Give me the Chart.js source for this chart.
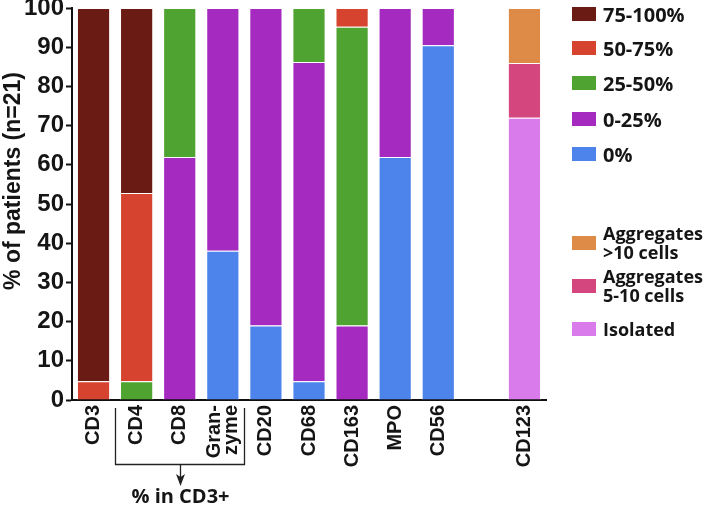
<!DOCTYPE html>
<html>
<head>
<meta charset="utf-8">
<script src="https://cdn.jsdelivr.net/npm/chart.js@4.4.1/dist/chart.umd.min.js"></script>
<style>
    body { margin: 0; background: #fff; }
    #wrap { position: relative; width: 709px; height: 507px; }
    #legend .item { position: absolute; left: 572px; display: flex; align-items: center; color: #151515; font-family: "Open Sans", sans-serif; font-weight: bold; }
    #legend .sw { width: 24px; height: 14px; margin-right: 7px; flex: none; }
</style>
</head>
<body>
<div id="wrap">
    <canvas id="chart" width="709" height="507"></canvas>
    <div id="legend"></div>
</div>
<script>
// categories (blank slot separates CD123 from the rest)
const categories = ['CD3', 'CD4', 'CD8', ['Gran-', 'zyme'], 'CD20', 'CD68', 'CD163', 'MPO', 'CD56', '', 'CD123'];

// % of patients per staining class
const pct0      = [null, null, null, 38.1, 19.0, 4.8, null, 62.0, 90.5, null, null];
const pct0to25  = [null, null, 62.0, 61.9, 81.0, 81.4, 19.0, 38.0, 9.5, null, null];
const pct25to50 = [null, 4.8, 38.0, null, null, 13.8, 76.2, null, null, null, null];
const pct50to75 = [4.8, 48.0, null, null, null, null, 4.8, null, null, null, null];
const pct75to100 = [95.2, 47.2, null, null, null, null, null, null, null, null, null];

// CD123 distribution
const isolated   = [null, null, null, null, null, null, null, null, null, null, 72.0];
const aggr5to10  = [null, null, null, null, null, null, null, null, null, null, 14.0];
const aggrOver10 = [null, null, null, null, null, null, null, null, null, null, 14.0];

const yTicks = [0, 10, 20, 30, 40, 50, 60, 70, 80, 90, 100];
const yTitle = '% of patients (n=21)';
const bracketText = '% in CD3+';

// stacked bottom -> top
const series = [
    { label: '0%', data: pct0, color: '#4d84eb' },
    { label: '0-25%', data: pct0to25, color: '#a52abf' },
    { label: '25-50%', data: pct25to50, color: '#4fa330' },
    { label: '50-75%', data: pct50to75, color: '#d6442f' },
    { label: '75-100%', data: pct75to100, color: '#6a1b14' },
    { label: 'Isolated', data: isolated, color: '#da7bec' },
    { label: 'Aggregates\n5-10 cells', data: aggr5to10, color: '#d3467e' },
    { label: 'Aggregates\n>10 cells', data: aggrOver10, color: '#df8b48' }
];

const datasets = series.map(s => ({
    label: s.label,
    data: s.data,
    backgroundColor: s.color,
    borderColor: 'rgba(255,255,255,0.85)',
    borderWidth: 1,
    barPercentage: 0.77,
    categoryPercentage: 1
}));

const FONT = '"Liberation Sans", Arial, sans-serif';

// rotated x labels, axis title and the "% in CD3+" bracket
const annotations = {
    id: 'annotations',
    afterDraw(chart) {
        const ctx = chart.ctx;
        const x = chart.scales.x;
        const base = chart.chartArea.bottom;
        ctx.save();
        ctx.fillStyle = '#151515';

        // x labels
        ctx.font = 'bold 20px ' + FONT;
        ctx.textAlign = 'right';
        ctx.textBaseline = 'middle';
        categories.forEach((lab, i) => {
            const lines = Array.isArray(lab) ? lab : [lab];
            ctx.save();
            ctx.translate(x.getPixelForValue(i), base + 5);
            ctx.rotate(-Math.PI / 2);
            lines.forEach((ln, j) => ctx.fillText(ln, 0, (j - (lines.length - 1) / 2) * 17));
            ctx.restore();
        });

        // y title
        ctx.save();
        ctx.font = 'bold 23px ' + FONT;
        ctx.textAlign = 'center';
        ctx.translate(14, 181);
        ctx.rotate(-Math.PI / 2);
        ctx.fillText(yTitle, 0, 0);
        ctx.restore();

        // bracket under CD4..Granzyme
        const slot = x.getPixelForValue(1) - x.getPixelForValue(0);
        const left = Math.round(x.getPixelForValue(1) - slot / 2) + 0.5;
        const right = Math.round(x.getPixelForValue(3) + slot / 2) + 0.5;
        const mid = Math.round((left + right) / 2) + 0.5;
        const top = base + 8, bottom = base + 64.5;
        ctx.strokeStyle = '#222';
        ctx.lineWidth = 1.3;
        ctx.beginPath();
        ctx.moveTo(left, top);
        ctx.lineTo(left, bottom);
        ctx.lineTo(right, bottom);
        ctx.lineTo(right, top);
        ctx.moveTo(mid, bottom);
        ctx.lineTo(mid, base + 82);
        ctx.stroke();
        ctx.fillStyle = '#222';
        ctx.beginPath();
        ctx.moveTo(mid - 4.5, base + 74);
        ctx.lineTo(mid, base + 86);
        ctx.lineTo(mid + 4.5, base + 74);
        ctx.lineTo(mid, base + 77);
        ctx.closePath();
        ctx.fill();
        ctx.fillStyle = '#151515';
        ctx.font = 'bold 20px "Open Sans", sans-serif';
        ctx.textAlign = 'center';
        ctx.fillText(bracketText, mid, base + 97);
        ctx.restore();
    }
};

const chart = new Chart(document.getElementById('chart'), {
    type: 'bar',
    data: { labels: categories, datasets: datasets },
    options: {
        responsive: false,
        animation: false,
        layout: { padding: { left: 0, right: 163, top: 8, bottom: 0 } },
        plugins: {
            legend: { display: false },
            tooltip: { enabled: false }
        },
        scales: {
            x: {
                stacked: true,
                grid: { display: true, drawOnChartArea: false, drawTicks: false, color: '#111' },
                border: { color: '#111', width: 2 },
                ticks: { display: false },
                afterFit: s => { s.height = 107; s.paddingLeft = 0; s.paddingRight = 0; }
            },
            y: {
                stacked: true,
                min: 0,
                max: 100,
                afterBuildTicks: s => { s.ticks = yTicks.map(v => ({ value: v })); },
                grid: { drawOnChartArea: false, drawTicks: true, tickLength: 6, tickWidth: 2, color: '#111' },
                border: { color: '#111', width: 2 },
                ticks: {
                    color: '#151515',
                    padding: 2,
                    font: { family: FONT, size: 24, weight: 'bold' }
                },
                afterFit: s => { s.width = 72; s.paddingTop = 0; s.paddingBottom = 0; }
            }
        }
    },
    plugins: [annotations]
});

// legend on the right, two groups
const legendRows = [
    { i: 4, y: 14, size: 20 },
    { i: 3, y: 48, size: 20 },
    { i: 2, y: 83, size: 20 },
    { i: 1, y: 119, size: 20 },
    { i: 0, y: 154, size: 20 },
    { i: 7, y: 243, size: 18 },
    { i: 6, y: 286, size: 18 },
    { i: 5, y: 329, size: 18 }
];
const legendDiv = document.getElementById('legend');
legendRows.forEach(row => {
    const s = series[row.i];
    const item = document.createElement('div');
    item.className = 'item';
    item.style.fontSize = row.size + 'px';
    item.style.lineHeight = '19px';
    const sw = document.createElement('div');
    sw.className = 'sw';
    sw.style.background = s.color;
    const txt = document.createElement('div');
    txt.innerHTML = s.label.split('\n').join('<br>');
    item.appendChild(sw);
    item.appendChild(txt);
    legendDiv.appendChild(item);
    item.style.top = (row.y - item.offsetHeight / 2) + 'px';
});
</script>
</body>
</html>
